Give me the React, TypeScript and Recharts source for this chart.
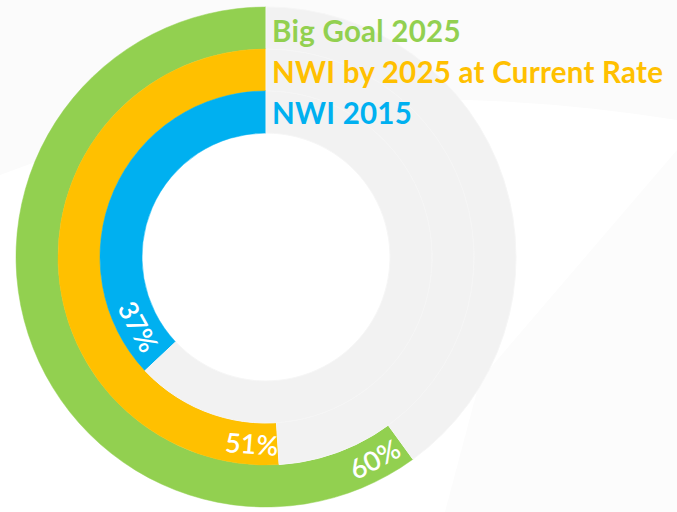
import React from "react";
import { PieChart, Pie, Cell } from "recharts";

const seriesNames = ["Big Goal 2025", "NWI by 2025 at Current Rate", "NWI 2015"];
const seriesValues = [60, 51, 37];
const seriesColors = ["#92d050", "#ffc000", "#00b0f0"];
const restColor = "#f2f2f2";
const labelOffsets = [31, 26, 37];

const W = 677;
const H = 512;
const CX = 266;
const CY = 257;
const OUTER = 250;
const BAND = 42;
const START = 90;
const RAD = Math.PI / 180;

function makeLabel(value: number, offPx: number) {
  return (props: any) => {
    const { index, innerRadius, outerRadius } = props;
    if (index !== 0) return null;
    const r = (innerRadius + outerRadius) / 2;
    const end = START + value * 3.6;
    const offsetDeg = (offPx / r) / RAD;
    const a = end - offsetDeg;
    const x = CX + r * Math.cos(a * RAD);
    const y = CY - r * Math.sin(a * RAD);
    const rot = -(a - 270);
    return (
      <text
        x={x}
        y={y}
        fill="#ffffff"
        fontFamily="Lato, 'Open Sans', sans-serif"
        fontSize={27}
        fontWeight={600}
        textAnchor="middle"
        dominantBaseline="central"
        transform={`rotate(${rot} ${x} ${y})`}
      >
        {`${value}%`}
      </text>
    );
  };
}

export default function App() {
  return (
    <div style={{ position: "absolute", left: 0, top: 0, width: W, height: H, background: "#ffffff" }}>
      <svg width={W} height={H} style={{ position: "absolute", left: 0, top: 0 }}>
        <path d={`M0 0 L${W} 0 L${W} 120 Q 300 60 0 175 Z`} fill="#fbfbfb" />
        <path d={`M445 ${H} L480 380 L${W} 150 L${W} ${H} Z`} fill="#fcfcfc" />
      </svg>
      <div style={{ position: "absolute", left: 0, top: 0 }}>
        <PieChart width={W} height={H} margin={{ top: 0, right: 0, bottom: 0, left: 0 }}>
          {seriesValues.map((v, i) => {
            const outerR = OUTER - i * BAND;
            const innerR = outerR - BAND;
            const data = [
              { name: seriesNames[i], value: v },
              { name: "rest", value: 100 - v },
            ];
            return (
              <Pie
                key={seriesNames[i]}
                data={data}
                dataKey="value"
                cx={CX}
                cy={CY}
                innerRadius={innerR}
                outerRadius={outerR}
                startAngle={START}
                endAngle={START + 360}
                isAnimationActive={false}
                labelLine={false}
                label={makeLabel(v, labelOffsets[i])}
                stroke="none"
              >
                <Cell fill={seriesColors[i]} stroke={seriesColors[i]} strokeWidth={0.5} />
                <Cell fill={restColor} stroke="#f6f6f6" strokeWidth={1} />
              </Pie>
            );
          })}
        </PieChart>
      </div>
      <svg width={W} height={H} style={{ position: "absolute", left: 0, top: 0, pointerEvents: "none" }}>
        {seriesNames.map((n, i) => (
          <text
            key={n}
            x={272}
            y={42 + i * 41}
            fill={seriesColors[i]}
            fontFamily="Lato, 'Open Sans', sans-serif"
            fontSize={29.5}
            fontWeight={700}
            letterSpacing={0.25}
          >
            {n}
          </text>
        ))}
      </svg>
    </div>
  );
}
